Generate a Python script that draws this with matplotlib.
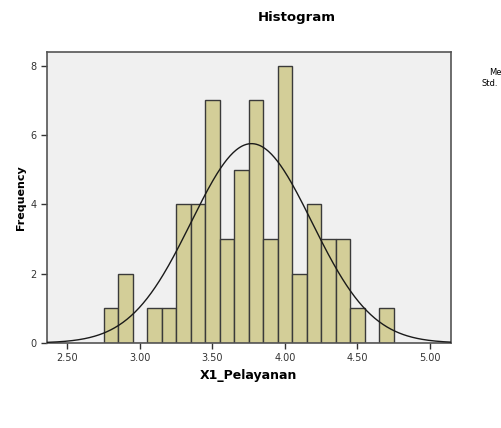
import numpy as np
import matplotlib.pyplot as plt

# bin counts (bin width 0.1, first edge 2.75)
bin_left = [2.75, 2.85, 2.95, 3.05, 3.15, 3.25, 3.35, 3.45, 3.55, 3.65,
            3.75, 3.85, 3.95, 4.05, 4.15, 4.25, 4.35, 4.45, 4.55, 4.65]
counts = [1, 2, 0, 1, 1, 4, 4, 7, 3, 5, 7, 3, 8, 2, 4, 3, 3, 1, 0, 1]
bin_w = 0.1
mean_val = 3.77
sd_val = 0.416
n_val = 60
xticks = [2.5, 3.0, 3.5, 4.0, 4.5, 5.0]
yticks = [0, 2, 4, 6, 8]

fig = plt.figure(figsize=(5.02, 4.28), dpi=100)
ax = fig.add_axes([0.0936, 0.1986, 0.8042, 0.68])
ax.set_facecolor('#F0F0F0')

ax.bar(bin_left, counts, width=bin_w, align='edge', color='#D3CE98',
       edgecolor='#3A3A3A', linewidth=1.0, zorder=2)

xs = np.linspace(2.36, 5.143, 400)
ys = n_val * bin_w / (sd_val * np.sqrt(2 * np.pi)) * np.exp(-0.5 * ((xs - mean_val) / sd_val) ** 2)
ax.plot(xs, ys, color='#1A1A1A', linewidth=1.0, zorder=3)

ax.set_xlim(2.36, 5.143)
ax.set_ylim(0, 8.4)
ax.set_xticks(xticks)
ax.set_xticklabels(['%.2f' % v for v in xticks])
ax.set_yticks(yticks)
ax.tick_params(labelsize=7, colors='#333333', length=4, width=1)
for s in ax.spines.values():
    s.set_color('#555555')
    s.set_linewidth(1.2)

ax.set_xlabel('X1_Pelayanan', fontsize=9, fontweight='bold', labelpad=4)
ax.set_ylabel('Frequency', fontsize=8, fontweight='bold', labelpad=3)
fig.text(0.592, 0.958, 'Histogram', fontsize=9.5, fontweight='bold', ha='center', va='center')

# legend text, only its left part is visible in the picture
fig.text(0.999, 0.830, 'Me', fontsize=6, va='center', ha='right')
fig.text(0.960, 0.806, 'Std.', fontsize=6, va='center')

fig.savefig('out.png', dpi=100)
